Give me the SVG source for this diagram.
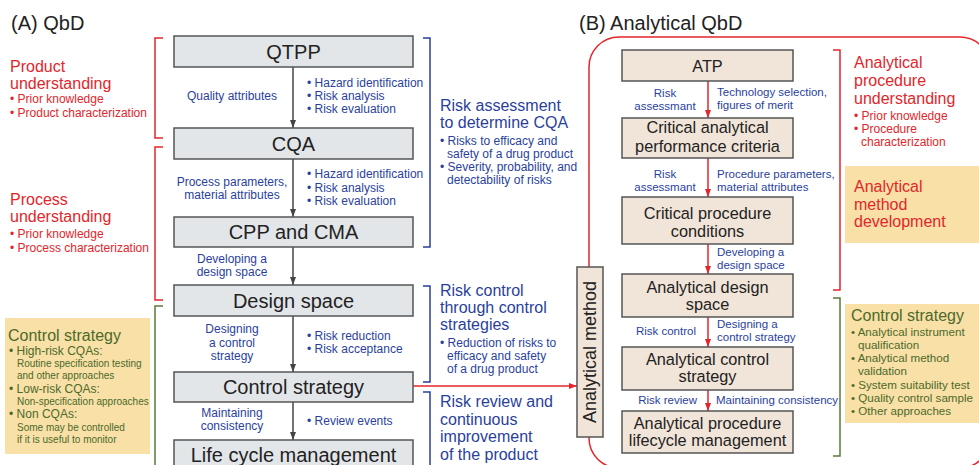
<svg xmlns="http://www.w3.org/2000/svg" width="979" height="465" viewBox="0 0 979 465">
<defs>
<style>
text{font-family:"Liberation Sans",Arial,sans-serif;}
.title{font-size:20px;fill:#222;}
.boxA{fill:#e3e6e9;stroke:#555;stroke-width:1.5;}
.boxB{fill:#f1e4d8;stroke:#555;stroke-width:1.5;}
.bt{font-size:20px;fill:#222;text-anchor:middle;}
.bt2{font-size:16.3px;fill:#222;text-anchor:middle;}
.lb{font-size:12px;fill:#2a3f9c;}
.lbm{font-size:12px;fill:#2a3f9c;text-anchor:middle;}
.rb{font-size:11.5px;fill:#2a3f9c;}
.big{font-size:16px;fill:#2a3f9c;}
.redbig{font-size:16px;fill:#e3262b;}
.redsm{font-size:12px;fill:#e3262b;}
.grbig{font-size:16px;fill:#4c6a2c;}
.grsm{font-size:12px;fill:#4c6a2c;}
.grsm2{font-size:11.6px;fill:#4c6a2c;}
.grxs{font-size:10px;fill:#4c6a2c;}
.yel{fill:#f8e0a6;}
.bk{fill:none;stroke-width:1.5;}
.arr{stroke:#444;stroke-width:1.5;fill:none;}
.arrR{stroke:#e3262b;stroke-width:1.5;fill:none;}
</style>
<marker id="mg" markerUnits="userSpaceOnUse" markerWidth="8" markerHeight="8" viewBox="0 0 8 8" refX="8" refY="4" orient="auto"><path d="M0,1 L8,4 L0,7 Z" fill="#444"/></marker>
<marker id="mr" markerUnits="userSpaceOnUse" markerWidth="8" markerHeight="8" viewBox="0 0 8 8" refX="8" refY="4" orient="auto"><path d="M0,1 L8,4 L0,7 Z" fill="#e3262b"/></marker>
</defs>
<rect width="979" height="465" fill="#fff"/>

<text class="title" x="11" y="30">(A) QbD</text>
<text class="title" x="579" y="30">(B) Analytical QbD</text>

<!-- big red rounded frame -->
<rect x="589" y="37" width="401" height="431" rx="30" fill="none" stroke="#e3262b" stroke-width="1.5"/>

<!-- brackets -->
<g id="brackets">
<path class="bk" stroke="#e3262b" d="M163,38 H155 V138 H163"/>
<path class="bk" stroke="#e3262b" d="M163,147 H155 V300 H163"/>
<path class="bk" stroke="#5b7a3a" d="M163,306 H155 V470"/>
<path class="bk" stroke="#2a3f9c" d="M423,38 H430 V247 H423"/>
<path class="bk" stroke="#2a3f9c" d="M423,286 H430 V382 H423"/>
<path class="bk" stroke="#2a3f9c" d="M423,392 H430 V470"/>
<path class="bk" stroke="#e3262b" d="M833,50 H840 V290 H833"/>
<path class="bk" stroke="#5b7a3a" d="M833,298 H840 V456 H833"/>
</g>

<!-- connectors -->
<g id="connectors">
<line class="arr" x1="293" y1="67" x2="293" y2="128" marker-end="url(#mg)"/>
<line class="arr" x1="293" y1="159" x2="293" y2="217" marker-end="url(#mg)"/>
<line class="arr" x1="293" y1="247" x2="293" y2="285" marker-end="url(#mg)"/>
<line class="arr" x1="293" y1="316" x2="293" y2="372" marker-end="url(#mg)"/>
<line class="arr" x1="293" y1="402" x2="293" y2="440" marker-end="url(#mg)"/>
<line class="arrR" x1="708" y1="81" x2="708" y2="118" marker-end="url(#mr)"/>
<line class="arrR" x1="708" y1="158" x2="708" y2="197" marker-end="url(#mr)"/>
<line class="arrR" x1="708" y1="244" x2="708" y2="274" marker-end="url(#mr)"/>
<line class="arrR" x1="708" y1="317" x2="708" y2="347" marker-end="url(#mr)"/>
<line class="arrR" x1="708" y1="390" x2="708" y2="411" marker-end="url(#mr)"/>
<line class="arrR" x1="413" y1="386" x2="577" y2="386" marker-end="url(#mr)"/>
</g>

<!-- left nodes -->
<g id="qtpp"><rect class="boxA" x="174" y="36" width="239" height="31"/><text class="bt" x="293.5" y="59">QTPP</text></g>
<g id="cqa"><rect class="boxA" x="174" y="128" width="239" height="31"/><text class="bt" x="293.5" y="151">CQA</text></g>
<g id="cpp"><rect class="boxA" x="174" y="217" width="239" height="30"/><text class="bt" x="293.5" y="239">CPP and CMA</text></g>
<g id="designspace"><rect class="boxA" x="174" y="285" width="239" height="31"/><text class="bt" x="293.5" y="308">Design space</text></g>
<g id="controlstrategy"><rect class="boxA" x="174" y="372" width="239" height="30"/><text class="bt" x="293.5" y="394">Control strategy</text></g>
<g id="lifecycle"><rect class="boxA" x="174" y="440" width="239" height="40"/><text class="bt" x="293.5" y="462">Life cycle management</text></g>

<!-- left connector labels -->
<g id="labelsA">
<text class="lbm" x="232" y="100">Quality attributes</text>
<text class="lb" x="307" y="87">• Hazard identification</text>
<text class="lb" x="307" y="100">• Risk analysis</text>
<text class="lb" x="307" y="113">• Risk evaluation</text>
<text class="lbm" x="232" y="186">Process parameters,</text>
<text class="lbm" x="232" y="199">material attributes</text>
<text class="lb" x="307" y="178">• Hazard identification</text>
<text class="lb" x="307" y="192">• Risk analysis</text>
<text class="lb" x="307" y="205">• Risk evaluation</text>
<text class="lbm" x="232" y="263">Developing a</text>
<text class="lbm" x="232" y="276">design space</text>
<text class="lbm" x="232" y="333">Designing</text>
<text class="lbm" x="232" y="347">a control</text>
<text class="lbm" x="232" y="360">strategy</text>
<text class="lb" x="307" y="340">• Risk reduction</text>
<text class="lb" x="307" y="353">• Risk acceptance</text>
<text class="lbm" x="232" y="417">Maintaining</text>
<text class="lbm" x="232" y="430">consistency</text>
<text class="lb" x="307" y="425">• Review events</text>
</g>

<!-- left side texts -->
<g id="productUnderstanding">
<text class="redbig" x="10" y="72">Product</text>
<text class="redbig" x="10" y="89">understanding</text>
<text class="redsm" x="10" y="103">• Prior knowledge</text>
<text class="redsm" x="10" y="117">• Product characterization</text>
</g>
<g id="processUnderstanding">
<text class="redbig" x="10" y="205">Process</text>
<text class="redbig" x="10" y="222">understanding</text>
<text class="redsm" x="10" y="238">• Prior knowledge</text>
<text class="redsm" x="10" y="252">• Process characterization</text>
</g>
<g id="controlStrategyA">
<rect class="yel" x="5" y="318" width="145" height="136"/>
<text class="grbig" x="8" y="341">Control strategy</text>
<text class="grsm" x="9" y="355">• High-risk CQAs:</text>
<text class="grxs" x="17" y="367">Routine specification testing</text>
<text class="grxs" x="17" y="379">and other approaches</text>
<text class="grsm" x="9" y="393">• Low-risk CQAs:</text>
<text class="grxs" x="17" y="405">Non-specification approaches</text>
<text class="grsm" x="9" y="418">• Non CQAs:</text>
<text class="grxs" x="17" y="431">Some may be controlled</text>
<text class="grxs" x="17" y="443">if it is useful to monitor</text>
</g>

<!-- blue risk texts -->
<g id="riskAssessment">
<text class="big" x="440" y="111">Risk assessment</text>
<text class="big" x="440" y="128">to determine CQA</text>
<text class="lb" x="440" y="145">• Risks to efficacy and</text>
<text class="lb" x="447" y="158">safety of a drug product</text>
<text class="lb" x="440" y="171">• Severity, probability, and</text>
<text class="lb" x="447" y="184">detectability of risks</text>
</g>
<g id="riskControl">
<text class="big" x="440" y="296">Risk control</text>
<text class="big" x="440" y="313">through control</text>
<text class="big" x="440" y="330">strategies</text>
<text class="lb" x="440" y="347">• Reduction of risks to</text>
<text class="lb" x="447" y="360">efficacy and safety</text>
<text class="lb" x="447" y="373">of a drug product</text>
</g>
<g id="riskReview">
<text class="big" x="440" y="407">Risk review and</text>
<text class="big" x="440" y="425">continuous</text>
<text class="big" x="440" y="442">improvement</text>
<text class="big" x="440" y="460">of the product</text>
</g>

<!-- analytical method -->
<g id="analyticalMethod">
<rect class="boxB" x="577" y="267" width="26" height="170"/>
<text class="bt2" style="font-size:18px" transform="translate(596,352) rotate(-90)" x="0" y="0">Analytical method</text>
</g>

<!-- right nodes -->
<g id="atp"><rect class="boxB" x="622" y="50" width="171" height="31"/><text class="bt2" x="707.5" y="72">ATP</text></g>
<g id="capc"><rect class="boxB" x="622" y="118" width="171" height="40"/><text class="bt2" x="707.5" y="133">Critical analytical</text><text class="bt2" x="707.5" y="152">performance criteria</text></g>
<g id="cpc"><rect class="boxB" x="622" y="197" width="171" height="47"/><text class="bt2" x="707.5" y="219">Critical procedure</text><text class="bt2" x="707.5" y="237">conditions</text></g>
<g id="ads"><rect class="boxB" x="622" y="274" width="171" height="43"/><text class="bt2" x="707.5" y="293">Analytical design</text><text class="bt2" x="707.5" y="310">space</text></g>
<g id="acs"><rect class="boxB" x="622" y="347" width="171" height="43"/><text class="bt2" x="707.5" y="365">Analytical control</text><text class="bt2" x="707.5" y="382">strategy</text></g>
<g id="aplm"><rect class="boxB" x="622" y="411" width="171" height="42"/><text class="bt2" x="707.5" y="429">Analytical procedure</text><text class="bt2" x="707.5" y="446">lifecycle management</text></g>

<!-- right connector labels -->
<g id="labelsB">
<text class="rb" x="665" y="97" text-anchor="middle">Risk</text>
<text class="rb" x="665" y="110" text-anchor="middle">assessmant</text>
<text class="rb" x="717" y="96">Technology selection,</text>
<text class="rb" x="717" y="109">figures of merit</text>
<text class="rb" x="665" y="178" text-anchor="middle">Risk</text>
<text class="rb" x="665" y="191" text-anchor="middle">assessmant</text>
<text class="rb" x="717" y="178">Procedure parameters,</text>
<text class="rb" x="717" y="191">material attributes</text>
<text class="rb" x="717" y="256">Developing a</text>
<text class="rb" x="717" y="269">design space</text>
<text class="rb" x="696" y="335" text-anchor="end">Risk control</text>
<text class="rb" x="717" y="328">Designing a</text>
<text class="rb" x="717" y="341">control strategy</text>
<text class="rb" x="697" y="404" text-anchor="end">Risk review</text>
<text class="rb" x="716" y="404">Maintaining consistency</text>
</g>

<!-- right side texts -->
<g id="analyticalProcedureUnderstanding">
<text class="redbig" x="854" y="68">Analytical</text>
<text class="redbig" x="854" y="86">procedure</text>
<text class="redbig" x="854" y="104">understanding</text>
<text class="redsm" x="854" y="120">• Prior knowledge</text>
<text class="redsm" x="854" y="133">• Procedure</text>
<text class="redsm" x="861" y="146">characterization</text>
</g>
<g id="analyticalMethodDevelopment">
<rect class="yel" x="845" y="166" width="140" height="77"/>
<text class="redbig" x="854" y="192">Analytical</text>
<text class="redbig" x="854" y="210">method</text>
<text class="redbig" x="854" y="227">development</text>
</g>
<g id="controlStrategyB">
<rect class="yel" x="845" y="304" width="140" height="119"/>
<text class="grbig" x="851" y="321">Control strategy</text>
<text class="grsm2" x="851" y="336">• Analytical instrument</text>
<text class="grsm2" x="858" y="349">qualification</text>
<text class="grsm2" x="851" y="362">• Analytical method</text>
<text class="grsm2" x="858" y="375">validation</text>
<text class="grsm2" x="851" y="389">• System suitability test</text>
<text class="grsm2" x="851" y="402">• Quality control sample</text>
<text class="grsm2" x="851" y="415">• Other approaches</text>
</g>
</svg>
